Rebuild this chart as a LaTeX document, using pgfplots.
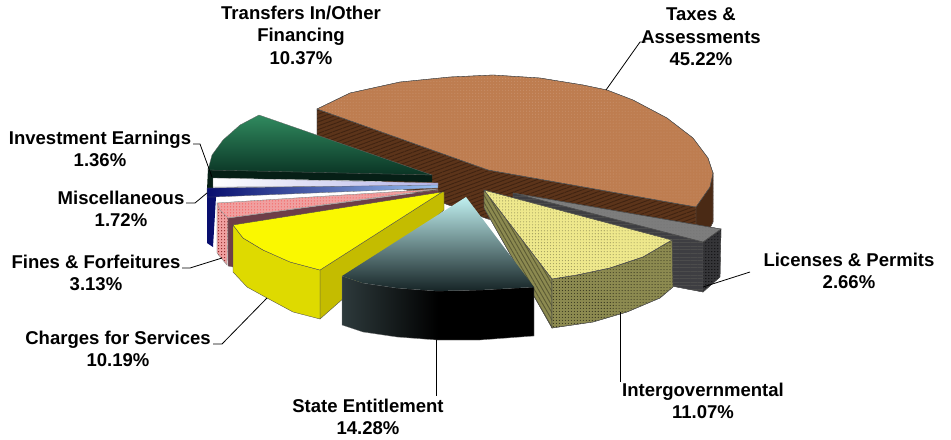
\documentclass[border=0pt]{standalone}
\usepackage{fontspec}
\setmainfont{Liberation Sans}
\usepackage{pgfplots}
\pgfplotsset{compat=1.18}
\usetikzlibrary{patterns.meta}

% colours of the slices
\definecolor{taxtop}{RGB}{190,125,80}
\definecolor{taxside}{RGB}{92,52,26}
\definecolor{licTop}{RGB}{125,125,125}
\definecolor{licSide}{RGB}{62,62,66}
\definecolor{intTop}{RGB}{238,232,140}
\definecolor{intSide}{RGB}{140,138,80}
\definecolor{yelTop}{RGB}{250,248,0}
\definecolor{yelOuter}{RGB}{222,218,0}
\definecolor{yelInner}{RGB}{196,188,0}
\definecolor{pinkTop}{RGB}{240,160,160}
\definecolor{mauve}{RGB}{110,62,72}
\definecolor{navy}{RGB}{8,14,110}
\definecolor{grnLight}{RGB}{48,138,95}
\definecolor{grnDark}{RGB}{10,52,36}
\definecolor{iceTop}{RGB}{192,240,240}
\definecolor{iceDark}{RGB}{22,36,38}

\tikzset{
  rim/.style={draw=black!70,line width=0.35pt},
  leader/.style={draw=black,line width=0.8pt},
  lbl/.style={font=\fontsize{18.6}{22.6}\selectfont\bfseries,align=center,inner sep=0pt,text=black},
  speck/.style={postaction={pattern={Dots[radius=0.55pt,distance=3pt,xshift=0.5pt]},pattern color=#1}},
  hatchlines/.style 2 args={postaction={pattern={Lines[angle=#1,distance=3.6pt,line width=0.9pt]},pattern color=#2}},
}

\begin{document}
\begin{tikzpicture}
\useasboundingbox (0,0) rectangle (951bp,440bp);
\begin{axis}[
  at={(0,0)},anchor=south west,
  scale only axis,width=951bp,height=440bp,
  xmin=0,xmax=951,ymin=0,ymax=440,y dir=reverse,
  hide axis,clip=false]

% Taxes & Assessments
\addplot[fill=taxside,rim,hatchlines={20}{black!30!taxside}] coordinates {(317,109) (488,170) (696,207) (713,173) (713,222) (696,256) (488,219) (317,158)} -- cycle;
\addplot[fill=taxside!80!black,draw=black!60,line width=0.3pt] coordinates {(696,207) (713,173) (713,222) (696,256)} -- cycle;
\addplot[fill=taxtop,rim,speck=taxtop!85!white] coordinates {(317,109) (350,93) (400,82) (450,77) (493,75) (540,78) (583,85) (607,90) (633,100) (667,118) (693,138) (708,158) (713,173) (710,187) (696,207) (488,170)} -- cycle;

% Licenses & Permits
\addplot[fill=licSide,rim,hatchlines={0}{black!70}] coordinates {(513,193) (703,242) (703,292) (640,280) (513,215)} -- cycle;
\addplot[fill=licSide!85!black,rim,speck=black] coordinates {(703,242) (721,229) (720,277) (703,292)} -- cycle;
\addplot[fill=licTop,rim,speck=black!55] coordinates {(513,193) (721,229) (703,242)} -- cycle;

% Intergovernmental
\addplot[fill=intSide,rim,hatchlines={-60}{black!35!intSide}] coordinates {(484,190) (552,279) (552,328) (484,208)} -- cycle;
\addplot[fill=intSide,rim,speck=black!65!intSide] coordinates {(552,279) (577,275) (610,268) (643,257) (672,240) (673,287) (660,298) (627,312) (593,322) (552,328)} -- cycle;
\addplot[fill=intTop,rim,speck=black!35!intTop] coordinates {(484,190) (672,240) (643,257) (610,268) (577,275) (552,279)} -- cycle;

% Transfers In/Other Financing
\addplot[fill=grnDark!60!black,draw=none] coordinates {(208,168) (432,175) (432,182) (213,178) (213,190) (207,190)} -- cycle;
\addplot[draw=black!60,line width=0.3pt,top color=grnLight,bottom color=grnDark] coordinates {(432,175) (259,115) (240,125) (223,140) (212,155) (208,170)} -- cycle;

% Investment Earnings
\addplot[draw=black!50,line width=0.3pt,left color=white,right color=black!30!blue!30!white] coordinates {(213,178) (438,183) (438,186) (213,187)} -- cycle;

% Miscellaneous
\addplot[fill=navy,draw=none] coordinates {(207,190) (207,243) (213,247) (216,197)} -- cycle;
\addplot[draw=black!60,line width=0.3pt,left color=navy,right color=iceTop!80!blue] coordinates {(207,188) (438,185) (438,188) (213,197) (207,197)} -- cycle;

% Fines & Forfeitures
\addplot[fill=pinkTop,draw=black!40,line width=0.3pt,speck=red!45!black] coordinates {(217,203) (217,253) (227,265) (228,218)} -- cycle;
\addplot[fill=mauve,draw=black!50,line width=0.3pt] coordinates {(228,218) (438,190) (438,196) (233,267) (228,266)} -- cycle;
\addplot[fill=pinkTop,draw=black!40,line width=0.3pt,speck=red!50!pinkTop] coordinates {(217,203) (438,189) (228,218) (220,210)} -- cycle;

% Charges for Services
\addplot[fill=yelInner,rim] coordinates {(320,270) (442,192) (444,192) (444,210) (320,319)} -- cycle;
\addplot[fill=yelOuter,rim] coordinates {(233,225) (243,238) (263,250) (290,262) (320,270) (320,319) (293,312) (267,298) (247,287) (233,272)} -- cycle;
\addplot[fill=yelTop,rim] coordinates {(442,192) (233,225) (243,238) (263,250) (290,262) (320,270)} -- cycle;

% State Entitlement
\addplot[draw=black!50,line width=0.3pt,left color=iceDark!90!white,right color=black,middle color=black] coordinates {(342,276) (363,283) (397,288) (437,291) (480,290) (534,287) (534,336) (480,340) (437,340) (397,337) (363,332) (342,325)} -- cycle;
\addplot[draw=none,top color=iceTop,bottom color=iceDark] coordinates {(466,197) (342,276) (363,283) (397,288) (437,291) (480,290) (534,287)} -- cycle;

% leader lines
\addplot[leader] coordinates {(606,90) (640,42) (646,42)};
\addplot[leader] coordinates {(703,287) (750,272)};
\addplot[leader] coordinates {(620,312) (620,382)};
\addplot[leader] coordinates {(436,340) (436,396)};
\addplot[leader] coordinates {(267,298) (222,344) (213,344)};
\addplot[leader] coordinates {(222,258) (190,268) (182,268)};
\addplot[leader] coordinates {(207,193) (195,203) (186,203)};
\addplot[leader] coordinates {(212,177) (200,144) (193,144)};

% slice captions
\node[lbl] at (axis cs:301,35) {Transfers In/Other\\Financing\\10.37\%};
\node[lbl] at (axis cs:701,37) {Taxes \&\\Assessments\\45.22\%};
\node[lbl] at (axis cs:849,271) {Licenses \& Permits\\2.66\%};
\node[lbl] at (axis cs:703,401) {Intergovernmental\\11.07\%};
\node[lbl] at (axis cs:368,417) {State Entitlement\\14.28\%};
\node[lbl] at (axis cs:118,349) {Charges for Services\\10.19\%};
\node[lbl] at (axis cs:96,273) {Fines \& Forfeitures\\3.13\%};
\node[lbl] at (axis cs:121,209) {Miscellaneous\\1.72\%};
\node[lbl] at (axis cs:100,149) {Investment Earnings\\1.36\%};
\end{axis}
\end{tikzpicture}
\end{document}
